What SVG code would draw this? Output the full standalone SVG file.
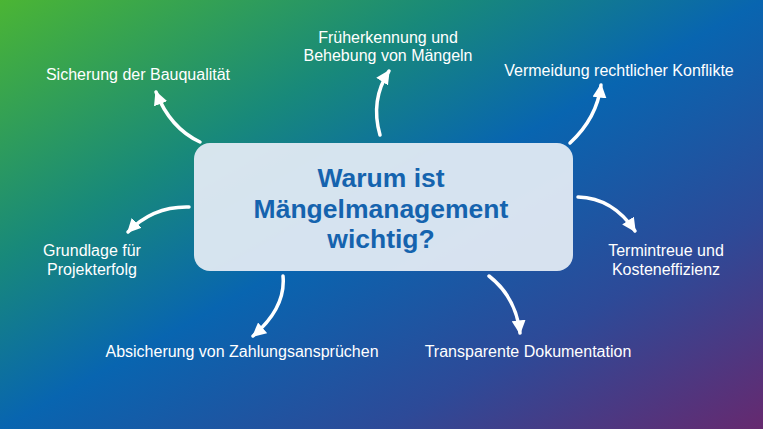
<svg xmlns="http://www.w3.org/2000/svg" width="763" height="429" viewBox="0 0 763 429">
  <defs>
    <linearGradient id="bg" x1="0" y1="0" x2="1" y2="1">
      <stop offset="0" stop-color="#4bb534"/>
      <stop offset="0.3" stop-color="#18897a"/>
      <stop offset="0.5" stop-color="#0865b0"/>
      <stop offset="0.75" stop-color="#2d4a98"/>
      <stop offset="1" stop-color="#66296f"/>
    </linearGradient>
    <marker id="ah" viewBox="0 0 10 10" refX="9" refY="5" markerUnits="userSpaceOnUse" markerWidth="14" markerHeight="14" orient="auto">
      <path d="M0,0 L10,5 L0,10 z" fill="#ffffff"/>
    </marker>
    <style>
      .lbl { font-family: "Liberation Sans", Arial, sans-serif; font-size: 16px; fill: #ffffff; text-anchor: middle; }
      .ttl { font-family: "Liberation Sans", Arial, sans-serif; font-size: 26.5px; font-weight: bold; fill: #1563ae; text-anchor: middle; }
      .con { fill: none; stroke: #ffffff; stroke-width: 3.5; stroke-linecap: round; marker-end: url(#ah); }
    </style>
  </defs>
  <rect x="0" y="0" width="763" height="429" fill="url(#bg)"/>

  <g id="connectors">
    <path class="con" d="M200,142 Q170,128 156,92"/>
    <path class="con" d="M380,135 Q370,100 389,71"/>
    <path class="con" d="M570,143 Q597,118 601,85"/>
    <path class="con" d="M578,197 Q613,198 635,231"/>
    <path class="con" d="M489,276 Q516,297 520,333"/>
    <path class="con" d="M283,276 Q286,308 253,336"/>
    <path class="con" d="M189,207 Q153,206 128,232"/>
  </g>

  <g id="center">
    <rect x="194" y="143" width="379" height="128" rx="16" fill="#e2eaf3" fill-opacity="0.95"/>
    <text class="ttl" x="381" y="187">Warum ist</text>
    <text class="ttl" x="381" y="218">Mängelmanagement</text>
    <text class="ttl" x="381" y="248">wichtig?</text>
  </g>

  <g id="n-bauqualitaet"><text class="lbl" x="138" y="80">Sicherung der Bauqualität</text></g>
  <g id="n-frueherkennung">
    <text class="lbl" x="388" y="43">Früherkennung und</text>
    <text class="lbl" x="388" y="61">Behebung von Mängeln</text>
  </g>
  <g id="n-konflikte"><text class="lbl" x="619" y="76">Vermeidung rechtlicher Konflikte</text></g>
  <g id="n-termintreue">
    <text class="lbl" x="666" y="256">Termintreue und</text>
    <text class="lbl" x="666" y="275">Kosteneffizienz</text>
  </g>
  <g id="n-dokumentation"><text class="lbl" x="528" y="357">Transparente Dokumentation</text></g>
  <g id="n-zahlung"><text class="lbl" x="242" y="357">Absicherung von Zahlungsansprüchen</text></g>
  <g id="n-projekterfolg">
    <text class="lbl" x="92" y="256">Grundlage für</text>
    <text class="lbl" x="92" y="275">Projekterfolg</text>
  </g>
</svg>
